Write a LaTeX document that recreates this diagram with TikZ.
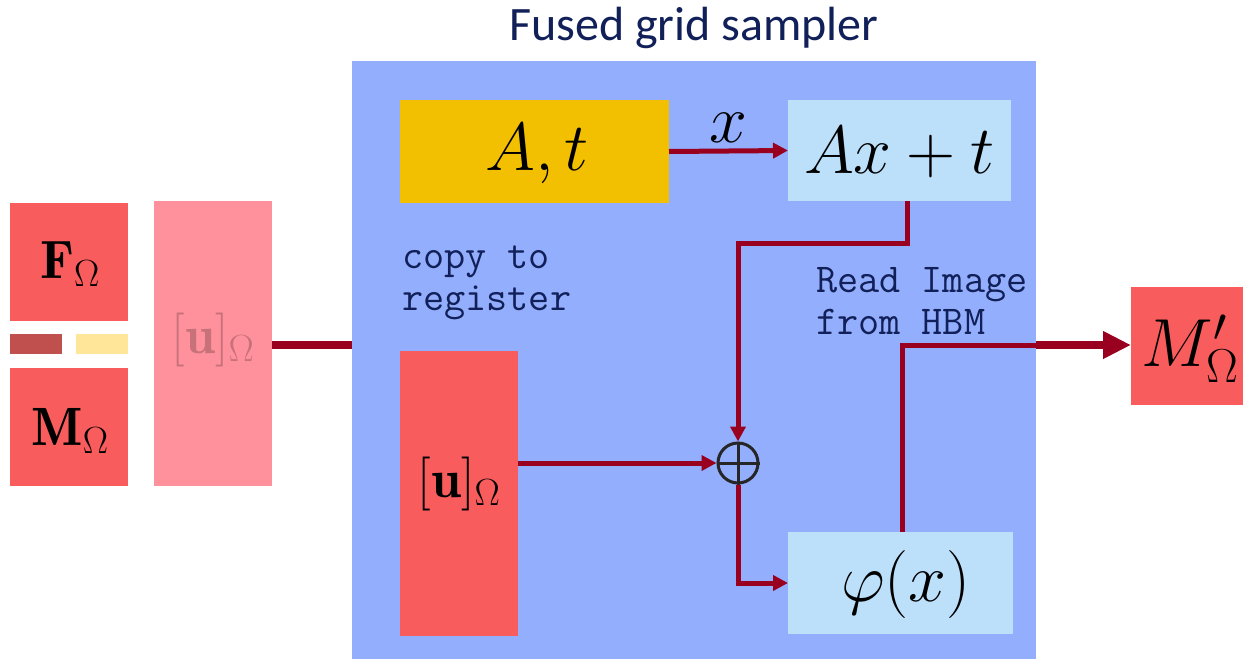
\RequirePackage{fix-cm}
\documentclass[tikz,border=0pt]{standalone}
\usepackage{amsmath}
\usepackage{fontspec}
\newfontfamily\titlefont{Carlito}
\usetikzlibrary{arrows.meta}
\definecolor{bigblue}{RGB}{147,174,252}
\definecolor{redbox}{RGB}{248,92,92}
\definecolor{pinkbox}{RGB}{255,145,156}
\definecolor{goldbox}{RGB}{242,192,0}
\definecolor{lightblue}{RGB}{189,224,250}
\definecolor{darkredsmall}{RGB}{192,80,77}
\definecolor{paleyellow}{RGB}{255,230,153}
\definecolor{wire}{RGB}{153,0,32}
\definecolor{navy}{RGB}{18,32,90}
\tikzset{
  blk/.style={inner sep=0pt, outer sep=0pt},
  mathbig/.style={font=\fontsize{68}{74}\selectfont},
  mathmid/.style={font=\fontsize{54}{60}\selectfont},
  code/.style={font=\ttfamily\fontsize{41}{46}\selectfont, text=navy, inner sep=0pt, anchor=base west},
  conn/.style={draw=wire, line width=5pt},
  tip/.style={-{Triangle[length=15pt,width=15pt]}},
  bigtip/.style={-{Triangle[length=28pt,width=26pt]}},
}
\begin{document}
\begin{tikzpicture}[x=1pt,y=-1pt]
\useasboundingbox (0,0) rectangle (1243,659);
\fill[white] (0,0) rectangle (1243,659);

% left blocks
\node[blk, fill=redbox, minimum width=118pt, minimum height=118pt] (F) at (69,262) {};
\node[mathmid, inner sep=0pt] (Ftxt) at (70,264) {$\mathbf{F}_\Omega$};
\node[blk, fill=darkredsmall, minimum width=52pt, minimum height=20pt] (dk) at (36,344) {};
\node[blk, fill=paleyellow, minimum width=52pt, minimum height=20pt] (yl) at (102,344) {};
\node[blk, fill=redbox, minimum width=118pt, minimum height=118pt] (M) at (69,427) {};
\node[mathmid, inner sep=0pt] (Mtxt) at (70,431) {$\mathbf{M}_\Omega$};
\node[blk, fill=pinkbox, minimum width=118pt, minimum height=285pt] (pink) at (213,343.5) {};
\node[mathmid, text opacity=0.22, inner sep=0pt] (pinktxt) at (213,340) {$[\mathbf{u}]_\Omega$};

% big box
\node[blk, fill=bigblue, minimum width=684pt, minimum height=598pt] (big) at (694,360) {};
\node[font=\titlefont\fontsize{48}{54}\selectfont, text=navy, inner sep=0pt] (title) at (694,28) {Fused grid sampler};

\draw[draw=wire, line width=8pt] (pink.east |- 0,345) coordinate (p1) -- (big.west |- p1);

% inner blocks
\node[blk, fill=goldbox, minimum width=269pt, minimum height=103pt] (At) at (534.5,151.5) {};
\node[mathbig, inner sep=0pt] (Attxt) at (537,154) {$A,t$};
\node[blk, fill=lightblue, minimum width=223pt, minimum height=101pt] (Axt) at (899.5,150.5) {};
\node[mathbig, inner sep=0pt] (Axttxt) at (899.5,152) {$Ax+t$};
\node[blk, fill=redbox, minimum width=118pt, minimum height=285pt] (ured) at (459,493.5) {};
\node[mathmid, inner sep=0pt] (utxt) at (459,484) {$[\mathbf{u}]_\Omega$};
\node[blk, fill=lightblue, minimum width=225pt, minimum height=102pt] (phi) at (900.5,583) {};
\node[mathbig, inner sep=0pt] (phitxt) at (906,584) {$\varphi(x)$};
\node[blk, fill=redbox, minimum width=112pt, minimum height=118pt] (Mp) at (1187,346) {};
\node[mathbig, inner sep=0pt] (Mptxt) at (1190,349) {$M'_\Omega$};

% texts
\node[code] (t1) at (402,268) {copy to};
\node[code] (t2) at (402,310) {register};
\node[code] (t3) at (816,292) {Read Image};
\node[code] (t4) at (816,334) {from HBM};

% oplus
\node[circle, draw=black!85, line width=3pt, minimum size=40pt, inner sep=0pt] (op) at (738,463) {};
\draw[black!85, line width=3pt] (op.north) -- (op.south) (op.west) -- (op.east);

% connectors
\coordinate (c1) at (907,243);
\coordinate (c2) at (902,345);
\draw[conn, tip] (At.east) -- (Axt.west) node[midway, above=6pt, mathbig, inner sep=0pt] (xl) {$x$};
\draw[conn, tip] (Axt.south -| c1) -- (c1) -| (op.north);
\draw[conn, tip] (ured.east |- op) -- (op.west);
\draw[conn, tip] (op.south) |- (phi.west);
\draw[conn] (phi.north -| c2) -- (c2) -- (big.east |- c2) coordinate (c3);
\draw[draw=wire, line width=8pt, bigtip] (c3) -- (Mp.west |- c3);
\end{tikzpicture}
\end{document}
